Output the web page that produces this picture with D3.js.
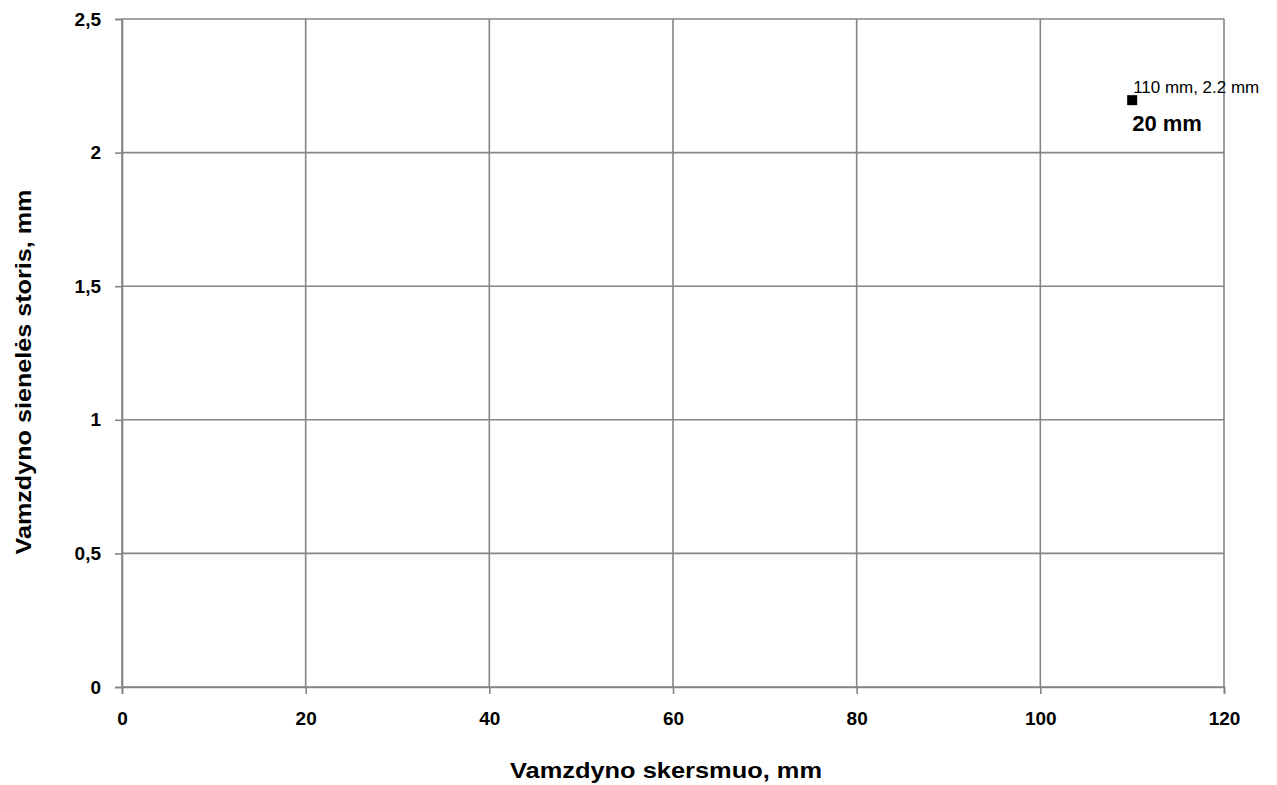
<!DOCTYPE html>
<html><head><meta charset="utf-8">
<script src="https://cdn.jsdelivr.net/npm/d3@7"></script>
<style>body{margin:0;background:#fff;} text{font-family:"Liberation Sans",Arial,sans-serif;}</style>
</head><body>
<svg id="c" width="1277" height="785"></svg>
<script>
const xTicks = [0, 20, 40, 60, 80, 100, 120];
const yTicks = [0, 0.5, 1, 1.5, 2, 2.5];
const pointsX = [110];
const pointsY = [2.2];
const pointLabels = ["110 mm, 2.2 mm"];
const seriesName = "20 mm";
const xTitle = "Vamzdyno skersmuo, mm";
const yTitle = "Vamzdyno sienelės storis, mm";

const svg = d3.select("#c");
const L = 122, R = 1224, T = 19, B = 687;
const x = d3.scaleLinear().domain([0, 120]).range([L, R]);
const y = d3.scaleLinear().domain([0, 2.5]).range([B, T]);
const gridColor = "#858585";
const gw = 1.6;

// grid
svg.append("g").selectAll("line").data(xTicks).join("line")
  .attr("x1", d => x(d)).attr("x2", d => x(d)).attr("y1", T).attr("y2", B)
  .attr("stroke", gridColor).attr("stroke-width", gw);
svg.append("g").selectAll("line").data(yTicks).join("line")
  .attr("x1", L).attr("x2", R).attr("y1", d => y(d)).attr("y2", d => y(d))
  .attr("stroke", gridColor).attr("stroke-width", gw);

const fmt = d => String(d).replace(".", ",");
const xa = svg.append("g").attr("transform", `translate(0,${B})`)
  .call(d3.axisBottom(x).tickValues(xTicks).tickSize(7).tickPadding(18).tickFormat(fmt));
const ya = svg.append("g").attr("transform", `translate(${L},0)`)
  .call(d3.axisLeft(y).tickValues(yTicks).tickSize(7).tickPadding(14).tickFormat(fmt));
[xa, ya].forEach(a => {
  a.select(".domain").attr("stroke", gridColor).attr("stroke-width", gw);
  a.selectAll(".tick line").attr("stroke", gridColor).attr("stroke-width", gw);
  a.selectAll(".tick text").attr("fill", "#000").style("font-family", "Liberation Sans, Arial, sans-serif")
    .style("font-size", "19px").style("font-weight", "bold");
});

// points
const pts = pointsX.map((v, i) => ({x: v, y: pointsY[i], label: pointLabels[i]}));
svg.append("g").selectAll("rect").data(pts).join("rect")
  .attr("x", d => x(d.x) - 5).attr("y", d => y(d.y) - 4).attr("width", 10).attr("height", 10).attr("fill", "#000");
svg.append("g").selectAll("text").data(pts).join("text")
  .attr("x", d => x(d.x) + 1).attr("y", d => y(d.y) - 6)
  .style("font-size", "16px").attr("textLength", 126).attr("lengthAdjust", "spacingAndGlyphs")
  .attr("fill", "#000").text(d => d.label);
svg.append("g").selectAll("text").data(pts).join("text")
  .attr("x", d => x(d.x)).attr("y", d => y(d.y) + 32)
  .style("font-size", "22px").style("font-weight", "bold").attr("fill", "#000").text(seriesName);

// titles
svg.append("text").attr("x", 666).attr("y", 778).attr("text-anchor", "middle")
  .style("font-size", "22px").style("font-weight", "bold")
  .attr("textLength", 312).attr("lengthAdjust", "spacingAndGlyphs").text(xTitle);
svg.append("text").attr("transform", "translate(31,372) rotate(-90)").attr("text-anchor", "middle")
  .style("font-size", "22px").style("font-weight", "bold")
  .attr("textLength", 365).attr("lengthAdjust", "spacingAndGlyphs").text(yTitle);
</script>
</body></html>
